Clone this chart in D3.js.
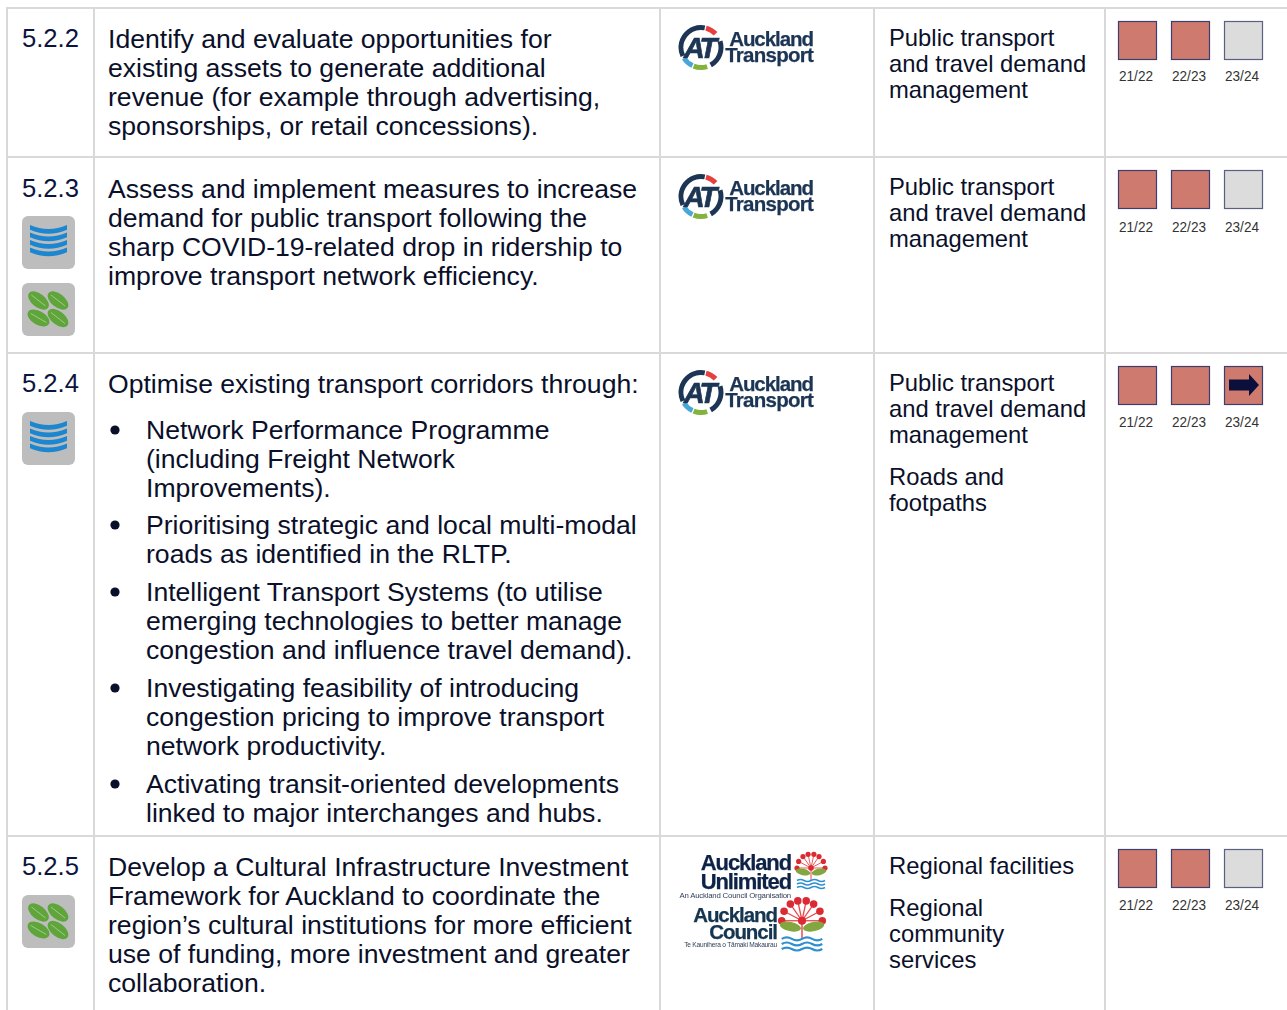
<!DOCTYPE html>
<html><head><meta charset="utf-8">
<script src="https://cdn.jsdelivr.net/npm/d3@7"></script>
<style>html,body{margin:0;padding:0;background:#fff;overflow:hidden}svg{display:block}text{font-family:"Liberation Sans",Arial,sans-serif}</style>
</head><body><div id="c"></div>
<script>
const ids=["5.2.2","5.2.3","5.2.4","5.2.5"];
const descriptions=[
 ["Identify and evaluate opportunities for","existing assets to generate additional","revenue (for example through advertising,","sponsorships, or retail concessions)."],
 ["Assess and implement measures to increase","demand for public transport following the","sharp COVID-19-related drop in ridership to","improve transport network efficiency."],
 ["Optimise existing transport corridors through:"],
 ["Develop a Cultural Infrastructure Investment","Framework for Auckland to coordinate the","region\u2019s cultural institutions for more efficient","use of funding, more investment and greater","collaboration."]];
const bullets=[
 ["Network Performance Programme","(including Freight Network","Improvements)."],
 ["Prioritising strategic and local multi-modal","roads as identified in the RLTP."],
 ["Intelligent Transport Systems (to utilise","emerging technologies to better manage","congestion and influence travel demand)."],
 ["Investigating feasibility of introducing","congestion pricing to improve transport","network productivity."],
 ["Activating transit-oriented developments","linked to major interchanges and hubs."]];
const activities=[
 [["Public transport","and travel demand","management"]],
 [["Public transport","and travel demand","management"]],
 [["Public transport","and travel demand","management"],["Roads and","footpaths"]],
 [["Regional facilities"],["Regional","community","services"]]];
const years=["21/22","22/23","23/24"];
const status=[["on","on","off"],["on","on","off"],["on","on","arrow"],["on","on","off"]];
const icons=[[],["water","leaf"],["water"],["leaf"]];
const logos=["at","at","at","au"];

// layout
const W=1287,H=1010;
const rowTops=[8,157,353,836];
const colX=[7,94,660,874,1105];
const bulletY=[429.5,524.5,591.5,687.5,783.5];
const activityY=[[38],[187],[383,477],[866,908]];
const iconY=[[],[216,283],[412],[895]];
const descY=[38.7,188.7,383.7,866.7];
const statusY=[21,170,366,849];
const labelY=[76,227,422,905];
const idY=[38,188,383,866];
const logoY=[25,174,370,853];
const GRID="#d9d9d9",NAVY="#0b1440",BODY="#0a0f2a";

const svg=d3.select("#c").append("svg").attr("width",W).attr("height",H);
const defs=svg.append("defs");
defs.append("filter").attr("id","soft").append("feGaussianBlur").attr("stdDeviation",0.55);
const bg=svg.append("g");
bg.selectAll("line.h").data(rowTops).join("line").attr("x1",colX[0]-1).attr("x2",W).attr("y1",d=>d).attr("y2",d=>d).attr("stroke",GRID).attr("stroke-width",2);
bg.selectAll("line.v").data(colX).join("line").attr("class","v").attr("x1",d=>d).attr("x2",d=>d).attr("y1",7).attr("y2",H).attr("stroke",GRID).attr("stroke-width",2);

function lines(g,arr,x,y0,step,size,fill){
 g.selectAll(null).data(arr).join("text").attr("x",x).attr("y",(d,i)=>y0+i*step).attr("dy","0.35em")
  .attr("font-size",size).attr("fill",fill).text(d=>d);
}
const g=svg.append("g");
ids.forEach((d,i)=>{
 g.append("text").attr("x",22).attr("y",idY[i]).attr("dy","0.35em").attr("font-size",25.6).attr("fill",NAVY).text(d);
 lines(g.append("g"),descriptions[i],108,descY[i],29.1,26.6,BODY);
 activities[i].forEach((p,k)=>lines(g.append("g"),p,889,activityY[i][k],26,23.8,BODY));
 icons[i].forEach((t,k)=>drawIcon(t,22,iconY[i][k]));
 drawLogo(logos[i],logoY[i]);
 const xs=d3.scalePoint().domain(years).range([1118,1224]);
 years.forEach((y,k)=>{
  const st=status[i][k],x=xs(y),t=statusY[i];
  g.append("rect").attr("x",x+.5).attr("y",t+.5).attr("width",38).attr("height",38)
   .attr("fill",st==="off"?"#dcdcdc":"#cf7a6e").attr("stroke",st==="off"?"#5a6080":"#3c3f6e").attr("stroke-width",1.2);
  if(st==="arrow"){
   g.append("path").attr("transform",`translate(${x+5},${t+19})`).attr("d","M0,-5.5H20V-11L30,0L20,11V5.5H0Z").attr("fill","#0a0f3c");
  }
  g.append("text").attr("x",x+18).attr("y",labelY[i]).attr("dy","0.35em").attr("text-anchor","middle").attr("font-size",14).attr("fill","#333").attr("textLength",34).attr("lengthAdjust","spacingAndGlyphs").text(y);
 });
});
bullets.forEach((b,i)=>{
 g.append("circle").attr("cx",115).attr("cy",bulletY[i]+.5).attr("r",4.6).attr("fill","#0a0f2a");
 lines(g.append("g"),b,146,bulletY[i],29.3,26.6,BODY);
});

function drawIcon(type,x,y){
 const n=g.append("g").attr("transform",`translate(${x},${y})`).attr("filter","url(#soft)");
 n.append("rect").attr("width",53).attr("height",53).attr("rx",6).attr("fill","#bdbdbd");
 if(type==="water"){
  [9,16.5,24,31.5].forEach(o=>{
   n.append("path").attr("d",`M8,${o} Q26.5,${o+8} 45,${o} V${o+4.8} Q26.5,${o+12.8} 8,${o+4.8}Z`).attr("fill","#1b87d0");
  });
 }else{
  [[16.5,17.5,38],[36,17.5,38],[16.5,35,30],[36,35,38]].forEach(([cx,cy,r])=>{
   n.append("ellipse").attr("cx",cx).attr("cy",cy).attr("rx",12).attr("ry",6.8).attr("transform",`rotate(${r} ${cx} ${cy})`).attr("fill","#5fa53a");
   n.append("line").attr("x1",cx-9).attr("x2",cx+9).attr("y1",cy).attr("y2",cy).attr("transform",`rotate(${r} ${cx} ${cy})`).attr("stroke","#a9cf8e").attr("stroke-width",.8);
  });
 }
}
function bold(n,x,y,s,size,col,anchor,ls){
 return n.append("text").attr("x",x).attr("y",y).attr("font-size",size).attr("font-weight",700).attr("fill",col).attr("text-anchor",anchor).attr("letter-spacing",ls).attr("stroke",col).attr("stroke-width",.25).text(s);
}
function pohutukawa(n,cx,top,sc){
 const c=n.append("g").attr("transform",`translate(${cx},${top}) scale(${sc})`);
 [-90,-62,-35,-12,12,35,62,90].forEach(a=>{
  const r=a*Math.PI/180,x=Math.sin(r)*14,y=15-Math.cos(r)*14;
  c.append("line").attr("x1",0).attr("y1",15).attr("x2",x).attr("y2",y).attr("stroke","#e8464a").attr("stroke-width",.9);
  c.append("circle").attr("cx",x).attr("cy",y).attr("r",2.6).attr("fill","#dc2b33");
 });
 c.append("line").attr("x1",0).attr("x2",0).attr("y1",15).attr("y2",28).attr("stroke","#e8464a").attr("stroke-width",1);
 c.append("ellipse").attr("cx",-8).attr("cy",19).attr("rx",7.5).attr("ry",3.2).attr("transform","rotate(12 -8 19)").attr("fill","#82a63f");
 c.append("ellipse").attr("cx",8).attr("cy",19).attr("rx",7.5).attr("ry",3.2).attr("transform","rotate(-12 8 19)").attr("fill","#82a63f");
 c.append("circle").attr("cy",15).attr("r",2.8).attr("fill","#dc2b33");
 [27,30.5,34].forEach(o=>c.append("path").attr("d",`M-14,${o+.5} q3.5,-2 7,0 t7,0 t7,0 t7,0`).attr("fill","none").attr("stroke","#2f8fd0").attr("stroke-width",1.5));
}
function drawLogo(type,t){
 const n=g.append("g").attr("filter","url(#soft)");
 if(type==="at"){
  const cx=701,cy=t+22.5,tau=Math.PI*2;
  const ring=n.append("g").attr("transform",`translate(${cx},${cy})`);
  const a=d3.arc().innerRadius(17.5).outerRadius(22.5);
  [[-0.32,0.03,"#1c3554"],[0.04,0.13,"#e5413e"],[0.2,0.42,"#1c3554"],[0.45,0.56,"#83b23d"],[0.57,0.66,"#49a7d8"]].forEach(([s,e,col])=>
   ring.append("path").attr("d",a({startAngle:s*tau,endAngle:e*tau})).attr("fill",col));
  n.append("text").attr("x",cx-2).attr("y",cy+10).attr("text-anchor","middle").attr("font-size",29).attr("font-weight",700).attr("font-style","italic").attr("fill","#1c3554").attr("stroke","#1c3554").attr("stroke-width",.7).attr("letter-spacing",-3).text("AT");
  bold(n,813,t+21,"Auckland",20.5,"#1c3554","end",-1.05);
  bold(n,813,t+37,"Transport",20.5,"#1c3554","end",-.75);
 }else{
  bold(n,791,t+17,"Auckland",22,"#0f2246","end",-1.1);
  bold(n,791,t+36,"Unlimited",22,"#0f2246","end",-1.1);
  n.append("text").attr("x",791).attr("y",t+45).attr("text-anchor","end").attr("font-size",7.8).attr("fill","#33405c").attr("letter-spacing",-.2).text("An Auckland Council Organisation");
  bold(n,777,t+69,"Auckland",20.5,"#14344f","end",-1.05);
  bold(n,777,t+86,"Council",20.5,"#14344f","end",-1.05);
  n.append("text").attr("x",777).attr("y",t+94).attr("text-anchor","end").attr("font-size",6.6).attr("fill","#33405c").attr("letter-spacing",-.2).text("Te Kaunihera o T\u0101maki Makaurau");
  pohutukawa(n,811,t+0,1);
  pohutukawa(n,802,t+46,1.45);
 }
}
</script></body></html>
